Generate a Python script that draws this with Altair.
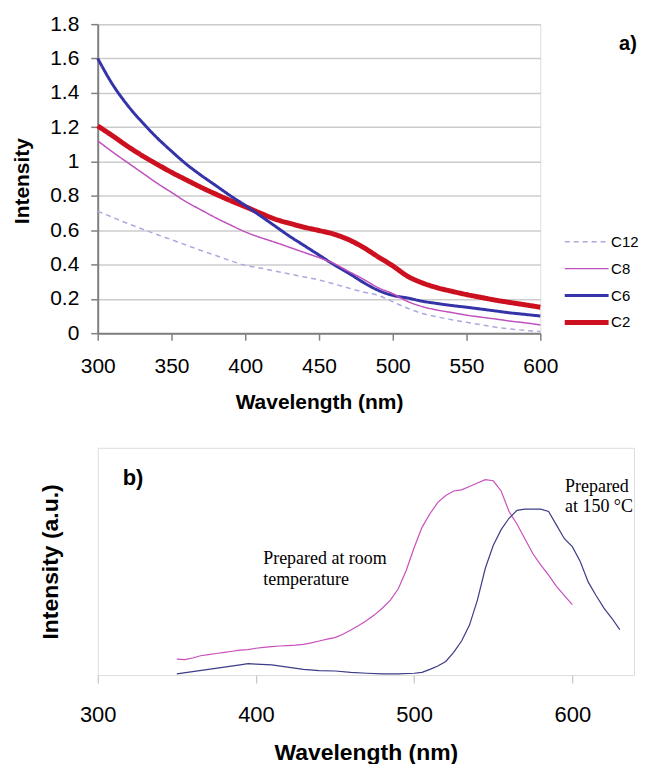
import altair as alt
import pandas as pd

# ---------------- panel a) absorption ----------------
wl_a = [300, 310, 320, 330, 340, 350, 360, 370, 380, 390, 400, 410, 420, 430, 440, 450,
        460, 470, 480, 490, 500, 510, 520, 530, 540, 550, 560, 570, 580, 590, 600]
c2 = [1.207, 1.15, 1.09, 1.035, 0.985, 0.937, 0.893, 0.85, 0.81, 0.772, 0.737, 0.70, 0.665,
      0.64, 0.617, 0.598, 0.577, 0.545, 0.50, 0.445, 0.392, 0.332, 0.293, 0.265, 0.244,
      0.225, 0.208, 0.192, 0.178, 0.165, 0.151]
c6 = [1.60, 1.45, 1.33, 1.23, 1.14, 1.06, 0.985, 0.92, 0.86, 0.80, 0.744, 0.685, 0.625,
      0.565, 0.51, 0.455, 0.40, 0.35, 0.296, 0.25, 0.22, 0.205, 0.186, 0.173, 0.161,
      0.151, 0.14, 0.129, 0.118, 0.109, 0.10]
c8 = [1.12, 1.056, 0.995, 0.935, 0.875, 0.82, 0.765, 0.718, 0.672, 0.63, 0.59, 0.558, 0.53,
      0.50, 0.47, 0.44, 0.406, 0.36, 0.315, 0.265, 0.23, 0.185, 0.155, 0.135, 0.12,
      0.105, 0.093, 0.082, 0.07, 0.06, 0.048]
c12 = [0.71, 0.675, 0.64, 0.607, 0.575, 0.545, 0.513, 0.482, 0.452, 0.422, 0.395, 0.38,
       0.362, 0.345, 0.327, 0.31, 0.287, 0.263, 0.24, 0.22, 0.183, 0.145, 0.115, 0.095,
       0.078, 0.063, 0.049, 0.034, 0.024, 0.016, 0.01]
series_a = ["C12", "C8", "C6", "C2"]
colors_a = ["#aaaae0", "#be50be", "#3434a8", "#cc1020"]
widths_a = [1.5, 1.5, 3, 5]
dashes_a = [[5, 4], [1, 0], [1, 0], [1, 0]]
x_ticks_a = [300, 350, 400, 450, 500, 550, 600]
y_ticks_a = [0, 0.2, 0.4, 0.6, 0.8, 1.0, 1.2, 1.4, 1.6, 1.8]

# ---------------- panel b) emission ----------------
wl_room = [350, 355, 360, 365, 370, 375, 380, 385, 390, 395, 400, 405, 410, 415, 420, 425,
           430, 435, 440, 445, 450, 455, 460, 465, 470, 475, 480, 485, 490, 495, 500, 505,
           510, 515, 520, 525, 530, 535, 540, 545, 550, 555, 560, 565, 570, 575, 580, 585,
           590, 595, 600]
int_room = [0.07, 0.068, 0.075, 0.085, 0.09, 0.095, 0.10, 0.105, 0.11, 0.112, 0.118, 0.122,
            0.125, 0.128, 0.13, 0.132, 0.135, 0.142, 0.15, 0.158, 0.165, 0.18, 0.198, 0.218,
            0.24, 0.265, 0.295, 0.33, 0.38, 0.46, 0.56, 0.65, 0.71, 0.76, 0.79, 0.81, 0.815,
            0.83, 0.845, 0.86, 0.855, 0.81, 0.72, 0.665, 0.60, 0.535, 0.485, 0.44, 0.39,
            0.35, 0.31]
wl_hot = [350, 360, 370, 380, 390, 395, 400, 410, 420, 430, 440, 450, 460, 470, 480, 490,
          500, 505, 510, 515, 520, 525, 530, 535, 540, 545, 550, 555, 560, 565, 570, 575,
          580, 585, 590, 595, 600, 605, 610, 615, 620, 625, 630]
int_hot = [0.005, 0.015, 0.025, 0.035, 0.045, 0.05, 0.048, 0.045, 0.035, 0.025, 0.02, 0.018,
           0.012, 0.008, 0.005, 0.005, 0.008, 0.012, 0.025, 0.04, 0.06, 0.10, 0.15, 0.22,
           0.33, 0.47, 0.57, 0.64, 0.69, 0.725, 0.73, 0.73, 0.73, 0.72, 0.66, 0.60, 0.565,
           0.50, 0.41, 0.35, 0.295, 0.25, 0.20]
color_room = "#c850bc"
color_hot = "#3c3c88"
x_ticks_b = [300, 400, 500, 600]

ann_text = [["Prepared at room", "temperature"], ["Prepared", "at 150 °C"]]
ann_wl = [404.6, 595.4]
ann_v = [0.549, 0.869]

SANS = "Liberation Sans"
SERIF = "Liberation Serif"
GRAY = "#808080"

rows = []
for name, vals in zip(["C2", "C6", "C8", "C12"], [c2, c6, c8, c12]):
    for w, v in zip(wl_a, vals):
        rows.append({"wl": w, "v": v, "series": name})
df_a = pd.DataFrame(rows)

legend_a = alt.Legend(title=None, orient="none", legendX=466, legendY=205,
                      symbolType="stroke", symbolSize=1936, clipHeight=26.5,
                      labelFontSize=15, labelFont=SANS, labelColor="black",
                      labelOffset=0, rowPadding=0)

top = alt.Chart(df_a).mark_line(interpolate="monotone").encode(
    x=alt.X("wl:Q", scale=alt.Scale(domain=[300, 600], nice=False, zero=False),
            axis=alt.Axis(values=x_ticks_a, title="Wavelength (nm)", grid=False,
                          labelFontSize=21, labelFont=SANS, labelColor="black",
                          labelFlush=False, labelOverlap=False,
                          labelPadding=15, tickSize=7, tickColor=GRAY, tickWidth=1.5,
                          domainColor=GRAY, domainWidth=2,
                          titleFont=SANS, titleFontSize=21, titleFontWeight="bold",
                          titleColor="black", titleBaseline="alphabetic", titleY=76)),
    y=alt.Y("v:Q", scale=alt.Scale(domain=[0, 1.8], nice=False, zero=False),
            axis=alt.Axis(values=y_ticks_a, tickCount=10, format=".1~f", title="Intensity",
                          grid=True, gridColor="#cccccc", gridWidth=1.5,
                          labelFontSize=21, labelFont=SANS, labelColor="black",
                          labelFlush=False, labelOverlap=False,
                          labelPadding=12, tickSize=7, tickColor=GRAY, tickWidth=1.5,
                          domainColor=GRAY, domainWidth=2,
                          titleFont=SANS, titleFontSize=21, titleFontWeight="bold",
                          titleColor="black", titleX=-75, titleY=157,
                          titleBaseline="middle", titleAlign="center", titleAngle=270)),
    color=alt.Color("series:N", scale=alt.Scale(domain=series_a, range=colors_a),
                    legend=legend_a),
    strokeDash=alt.StrokeDash("series:N",
                              scale=alt.Scale(type="ordinal", domain=series_a, range=dashes_a),
                              legend=legend_a),
    strokeWidth=alt.StrokeWidth("series:N",
                                scale=alt.Scale(type="ordinal", domain=series_a, range=widths_a),
                                legend=legend_a),
    order=alt.Order("wl:Q"),
).properties(
    width=444, height=310,
    title=alt.TitleParams("a)", anchor="start", frame="group", orient="top",
                          fontSize=20, font=SANS, fontWeight="bold", color="black",
                          baseline="middle", offset=0, dx=523, dy=51),
)

df_room = pd.DataFrame({"wl": wl_room, "v": int_room})
df_hot = pd.DataFrame({"wl": wl_hot, "v": int_hot})

xb = alt.X("wl:Q", scale=alt.Scale(domain=[300, 639], nice=False, zero=False),
           axis=alt.Axis(values=x_ticks_b, title="Wavelength (nm)", grid=False,
                         labelFontSize=22, labelFont=SANS, labelColor="black",
                         labelFlush=False, labelOverlap=False,
                         labelPadding=22, tickSize=8, tickColor="#bbbbbb", tickWidth=1,
                         domain=False,
                         titleFont=SANS, titleFontSize=23, titleFontWeight="bold",
                         titleColor="black", titleBaseline="alphabetic", titleY=85))
yb = alt.Y("v:Q", scale=alt.Scale(domain=[0, 1], nice=False, zero=False),
           axis=alt.Axis(title="Intensity (a.u.)", labels=False, ticks=False, domain=False,
                         grid=False,
                         titleFont=SANS, titleFontSize=23, titleFontWeight="bold",
                         titleColor="black", titleX=-47, titleY=114,
                         titleBaseline="middle", titleAlign="center", titleAngle=270))

room = alt.Chart(df_room).mark_line(strokeWidth=1.2, color=color_room).encode(
    x=xb, y=yb, order=alt.Order("wl:Q"))
hot = alt.Chart(df_hot).mark_line(strokeWidth=1.2, color=color_hot).encode(
    x="wl:Q", y="v:Q", order=alt.Order("wl:Q"))

ann_b = alt.Chart(pd.DataFrame({"wl": ann_wl, "v": ann_v, "t": ann_text})).mark_text(
    align="left", baseline="top", fontSize=18, font=SERIF, color="black", lineHeight=21
).encode(x="wl:Q", y="v:Q", text="t")

label_b = alt.Chart(pd.DataFrame({"wl": [315.8], "v": [0.868], "t": ["b)"]})).mark_text(
    align="left", baseline="middle", fontSize=22, fontWeight="bold", font=SANS, color="black"
).encode(x="wl:Q", y="v:Q", text="t:N")

bottom = alt.layer(room, hot, ann_b, label_b).properties(width=538, height=228)

chart = alt.vconcat(top, bottom, spacing=33).properties(
    padding={"left": 3, "top": 3, "right": 0, "bottom": 0}
).configure_view(stroke=GRAY, strokeWidth=1.5).configure(background="white")

chart.save("out.html", embed_options={"renderer": "svg", "actions": False})
